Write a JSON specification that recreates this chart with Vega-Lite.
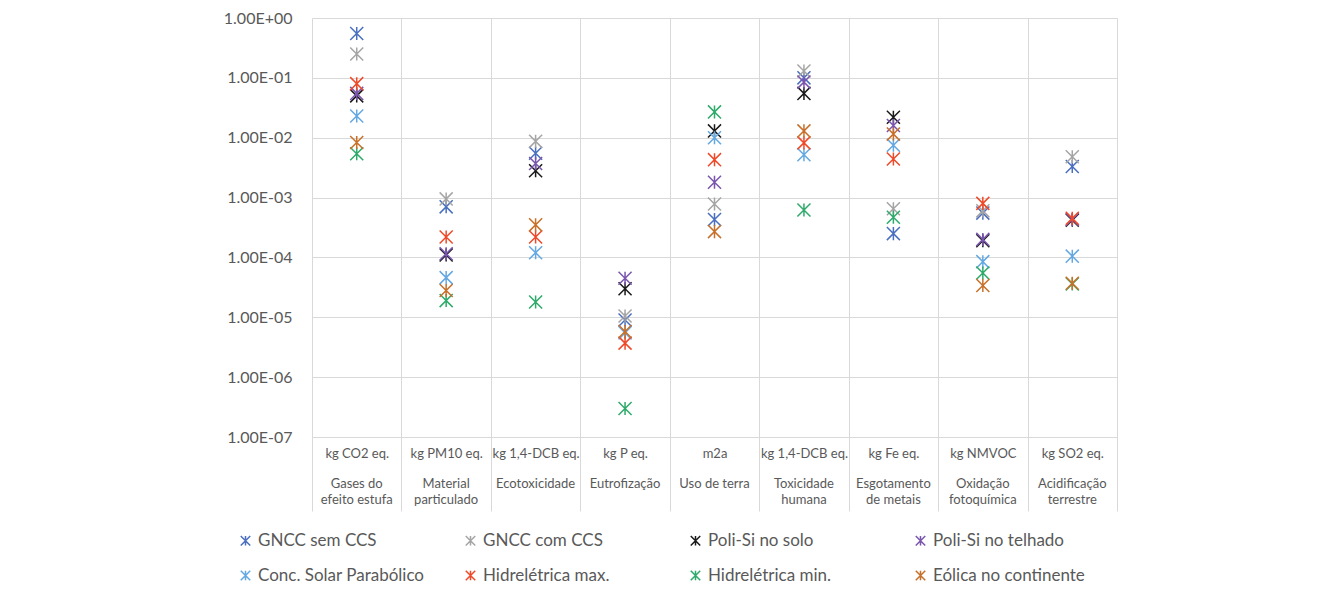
{
  "$schema": "https://vega.github.io/schema/vega-lite/v6.json",
  "width": 805,
  "height": 419,
  "autosize": {"type": "none"},
  "padding": {"left": 312, "top": 18, "right": 218, "bottom": 165},
  "background": "white",
  "config": {"view": {"stroke": null}, "font": "Lato"},
  "data": {
    "values": [
      {"series": "GNCC sem CCS", "cat": "kg CO2 eq.|Gases do|efeito estufa", "value": 0.55},
      {"series": "GNCC sem CCS", "cat": "kg PM10 eq.|Material|particulado", "value": 0.0007},
      {"series": "GNCC sem CCS", "cat": "kg 1,4-DCB eq.|Ecotoxicidade", "value": 0.0055},
      {"series": "GNCC sem CCS", "cat": "kg P eq.|Eutrofização", "value": 0.000009},
      {"series": "GNCC sem CCS", "cat": "m2a|Uso de terra", "value": 0.00043},
      {"series": "GNCC sem CCS", "cat": "kg 1,4-DCB eq. |Toxicidade|humana", "value": 0.1},
      {"series": "GNCC sem CCS", "cat": "kg Fe eq.|Esgotamento|de metais", "value": 0.00025},
      {"series": "GNCC sem CCS", "cat": "kg NMVOC|Oxidação|fotoquímica", "value": 0.00055},
      {"series": "GNCC sem CCS", "cat": "kg SO2 eq.|Acidificação|terrestre", "value": 0.0033},

      {"series": "GNCC com CCS", "cat": "kg CO2 eq.|Gases do|efeito estufa", "value": 0.25},
      {"series": "GNCC com CCS", "cat": "kg PM10 eq.|Material|particulado", "value": 0.00095},
      {"series": "GNCC com CCS", "cat": "kg 1,4-DCB eq.|Ecotoxicidade", "value": 0.0087},
      {"series": "GNCC com CCS", "cat": "kg P eq.|Eutrofização", "value": 0.0000105},
      {"series": "GNCC com CCS", "cat": "m2a|Uso de terra", "value": 0.00078},
      {"series": "GNCC com CCS", "cat": "kg 1,4-DCB eq. |Toxicidade|humana", "value": 0.13},
      {"series": "GNCC com CCS", "cat": "kg Fe eq.|Esgotamento|de metais", "value": 0.00065},
      {"series": "GNCC com CCS", "cat": "kg NMVOC|Oxidação|fotoquímica", "value": 0.0006},
      {"series": "GNCC com CCS", "cat": "kg SO2 eq.|Acidificação|terrestre", "value": 0.0048},

      {"series": "Poli-Si no solo", "cat": "kg CO2 eq.|Gases do|efeito estufa", "value": 0.05},
      {"series": "Poli-Si no solo", "cat": "kg PM10 eq.|Material|particulado", "value": 0.00011},
      {"series": "Poli-Si no solo", "cat": "kg 1,4-DCB eq.|Ecotoxicidade", "value": 0.0028},
      {"series": "Poli-Si no solo", "cat": "kg P eq.|Eutrofização", "value": 0.00003},
      {"series": "Poli-Si no solo", "cat": "m2a|Uso de terra", "value": 0.013},
      {"series": "Poli-Si no solo", "cat": "kg 1,4-DCB eq. |Toxicidade|humana", "value": 0.055},
      {"series": "Poli-Si no solo", "cat": "kg Fe eq.|Esgotamento|de metais", "value": 0.022},
      {"series": "Poli-Si no solo", "cat": "kg NMVOC|Oxidação|fotoquímica", "value": 0.00019},
      {"series": "Poli-Si no solo", "cat": "kg SO2 eq.|Acidificação|terrestre", "value": 0.00042},

      {"series": "Poli-Si no telhado", "cat": "kg CO2 eq.|Gases do|efeito estufa", "value": 0.055},
      {"series": "Poli-Si no telhado", "cat": "kg PM10 eq.|Material|particulado", "value": 0.000115},
      {"series": "Poli-Si no telhado", "cat": "kg 1,4-DCB eq.|Ecotoxicidade", "value": 0.0037},
      {"series": "Poli-Si no telhado", "cat": "kg P eq.|Eutrofização", "value": 0.000045},
      {"series": "Poli-Si no telhado", "cat": "m2a|Uso de terra", "value": 0.0018},
      {"series": "Poli-Si no telhado", "cat": "kg 1,4-DCB eq. |Toxicidade|humana", "value": 0.085},
      {"series": "Poli-Si no telhado", "cat": "kg Fe eq.|Esgotamento|de metais", "value": 0.016},
      {"series": "Poli-Si no telhado", "cat": "kg NMVOC|Oxidação|fotoquímica", "value": 0.0002},
      {"series": "Poli-Si no telhado", "cat": "kg SO2 eq.|Acidificação|terrestre", "value": 0.00043},

      {"series": "Conc. Solar Parabólico", "cat": "kg CO2 eq.|Gases do|efeito estufa", "value": 0.023},
      {"series": "Conc. Solar Parabólico", "cat": "kg PM10 eq.|Material|particulado", "value": 0.000046},
      {"series": "Conc. Solar Parabólico", "cat": "kg 1,4-DCB eq.|Ecotoxicidade", "value": 0.00012},
      {"series": "Conc. Solar Parabólico", "cat": "kg P eq.|Eutrofização", "value": 0.0000055},
      {"series": "Conc. Solar Parabólico", "cat": "m2a|Uso de terra", "value": 0.01},
      {"series": "Conc. Solar Parabólico", "cat": "kg 1,4-DCB eq. |Toxicidade|humana", "value": 0.0052},
      {"series": "Conc. Solar Parabólico", "cat": "kg Fe eq.|Esgotamento|de metais", "value": 0.0075},
      {"series": "Conc. Solar Parabólico", "cat": "kg NMVOC|Oxidação|fotoquímica", "value": 0.000085},
      {"series": "Conc. Solar Parabólico", "cat": "kg SO2 eq.|Acidificação|terrestre", "value": 0.000105},

      {"series": "Hidrelétrica max.", "cat": "kg CO2 eq.|Gases do|efeito estufa", "value": 0.08},
      {"series": "Hidrelétrica max.", "cat": "kg PM10 eq.|Material|particulado", "value": 0.00022},
      {"series": "Hidrelétrica max.", "cat": "kg 1,4-DCB eq.|Ecotoxicidade", "value": 0.00022},
      {"series": "Hidrelétrica max.", "cat": "kg P eq.|Eutrofização", "value": 0.0000037},
      {"series": "Hidrelétrica max.", "cat": "m2a|Uso de terra", "value": 0.0043},
      {"series": "Hidrelétrica max.", "cat": "kg 1,4-DCB eq. |Toxicidade|humana", "value": 0.0082},
      {"series": "Hidrelétrica max.", "cat": "kg Fe eq.|Esgotamento|de metais", "value": 0.0044},
      {"series": "Hidrelétrica max.", "cat": "kg NMVOC|Oxidação|fotoquímica", "value": 0.0008},
      {"series": "Hidrelétrica max.", "cat": "kg SO2 eq.|Acidificação|terrestre", "value": 0.00045},

      {"series": "Hidrelétrica min.", "cat": "kg CO2 eq.|Gases do|efeito estufa", "value": 0.0054},
      {"series": "Hidrelétrica min.", "cat": "kg PM10 eq.|Material|particulado", "value": 0.000019},
      {"series": "Hidrelétrica min.", "cat": "kg 1,4-DCB eq.|Ecotoxicidade", "value": 0.000018},
      {"series": "Hidrelétrica min.", "cat": "kg P eq.|Eutrofização", "value": 0.0000003},
      {"series": "Hidrelétrica min.", "cat": "m2a|Uso de terra", "value": 0.027},
      {"series": "Hidrelétrica min.", "cat": "kg 1,4-DCB eq. |Toxicidade|humana", "value": 0.00062},
      {"series": "Hidrelétrica min.", "cat": "kg Fe eq.|Esgotamento|de metais", "value": 0.00047},
      {"series": "Hidrelétrica min.", "cat": "kg NMVOC|Oxidação|fotoquímica", "value": 0.000055},
      {"series": "Hidrelétrica min.", "cat": "kg SO2 eq.|Acidificação|terrestre", "value": 0.000036},

      {"series": "Eólica no continente", "cat": "kg CO2 eq.|Gases do|efeito estufa", "value": 0.0083},
      {"series": "Eólica no continente", "cat": "kg PM10 eq.|Material|particulado", "value": 0.000028},
      {"series": "Eólica no continente", "cat": "kg 1,4-DCB eq.|Ecotoxicidade", "value": 0.00035},
      {"series": "Eólica no continente", "cat": "kg P eq.|Eutrofização", "value": 0.0000058},
      {"series": "Eólica no continente", "cat": "m2a|Uso de terra", "value": 0.00027},
      {"series": "Eólica no continente", "cat": "kg 1,4-DCB eq. |Toxicidade|humana", "value": 0.013},
      {"series": "Eólica no continente", "cat": "kg Fe eq.|Esgotamento|de metais", "value": 0.0115},
      {"series": "Eólica no continente", "cat": "kg NMVOC|Oxidação|fotoquímica", "value": 0.000034},
      {"series": "Eólica no continente", "cat": "kg SO2 eq.|Acidificação|terrestre", "value": 0.000037}
    ]
  },
  "encoding": {
    "y": {
      "field": "value",
      "type": "quantitative",
      "scale": {"type": "log", "domain": [0.0000001, 1]},
      "axis": {
        "title": null,
        "values": [0.0000001, 0.000001, 0.00001, 0.0001, 0.001, 0.01, 0.1, 1],
        "grid": true,
        "gridColor": "#D9D9D9",
        "gridWidth": 1,
        "domain": false,
        "ticks": false,
        "labelPadding": 20,
        "labelFontSize": 16,
        "labelColor": "#595959",
        "labelExpr": "'1.00E' + (datum.value >= 0.999 ? '+' : '-') + '0' + abs(round(log(datum.value)/LN10))"
      }
    }
  },
  "layer": [
    {
      "mark": {
        "type": "point",
        "shape": "M-1,-1L1,1M-1,1L1,-1M0,-1L0,1",
        "filled": false,
        "size": 170,
        "strokeWidth": 1.5,
        "opacity": 1
      },
      "encoding": {
        "x": {
          "field": "cat",
          "type": "nominal",
          "sort": null,
          "bandPosition": 0.5,
          "scale": {"type": "band", "paddingInner": 0, "paddingOuter": 0},
          "axis": {
            "orient": "bottom",
            "title": null,
            "tickBand": "extent",
            "grid": true,
            "gridColor": "#D9D9D9",
            "gridWidth": 1,
            "ticks": true,
            "tickSize": 74,
            "tickColor": "#D9D9D9",
            "tickWidth": 1,
            "domain": false,
            "labelAngle": 0,
            "labelAlign": "center",
            "labelBaseline": "top",
            "labelPadding": -63.5,
            "labelFontSize": 13,
            "labelColor": "#595959",
            "labelLimit": 0,
            "labelOverlap": false,
            "labelExpr": "datum.value ? trim(split(datum.value,'|')[0]) : ''"
          }
        },
        "color": {
          "field": "series",
          "type": "nominal",
          "sort": null,
          "scale": {
            "domain": ["GNCC sem CCS", "GNCC com CCS", "Poli-Si no solo", "Poli-Si no telhado", "Conc. Solar Parabólico", "Hidrelétrica max.", "Hidrelétrica min.", "Eólica no continente"],
            "range": ["#4A6FC0", "#A5A5A5", "#1A1A1A", "#7A55AE", "#64A8E2", "#EE4A2A", "#2EAA6A", "#C8702A"]
          },
          "legend": {
            "title": null,
            "orient": "none",
            "legendX": -75,
            "legendY": 514,
            "direction": "horizontal",
            "columns": 4,
            "gridAlign": "all",
            "columnPadding": 37,
            "rowPadding": 17,
            "symbolType": "M-1,-1L1,1M-1,1L1,-1M0,-1L0,1",
            "symbolSize": 90,
            "symbolStrokeWidth": 1.5,
            "labelFontSize": 17,
            "labelColor": "#595959",
            "labelOffset": 4,
            "labelLimit": 0
          }
        }
      }
    },
    {
      "mark": {"type": "point", "opacity": 0},
      "encoding": {
        "x": {
          "field": "cat",
          "type": "nominal",
          "sort": null,
          "bandPosition": 0.5,
          "scale": {"type": "band", "paddingInner": 0, "paddingOuter": 0},
          "axis": {
            "orient": "bottom",
            "title": null,
            "grid": false,
            "ticks": false,
            "domain": false,
            "labelAngle": 0,
            "labelAlign": "center",
            "labelBaseline": "top",
            "labelPadding": 40.5,
            "labelFontSize": 13,
            "labelColor": "#595959",
            "labelLineHeight": 16,
            "labelLimit": 0,
            "labelOverlap": false,
            "labelExpr": "datum.value ? slice(split(datum.value,'|'),1) : ''"
          }
        }
      }
    }
  ],
  "resolve": {"axis": {"x": "independent"}}
}
